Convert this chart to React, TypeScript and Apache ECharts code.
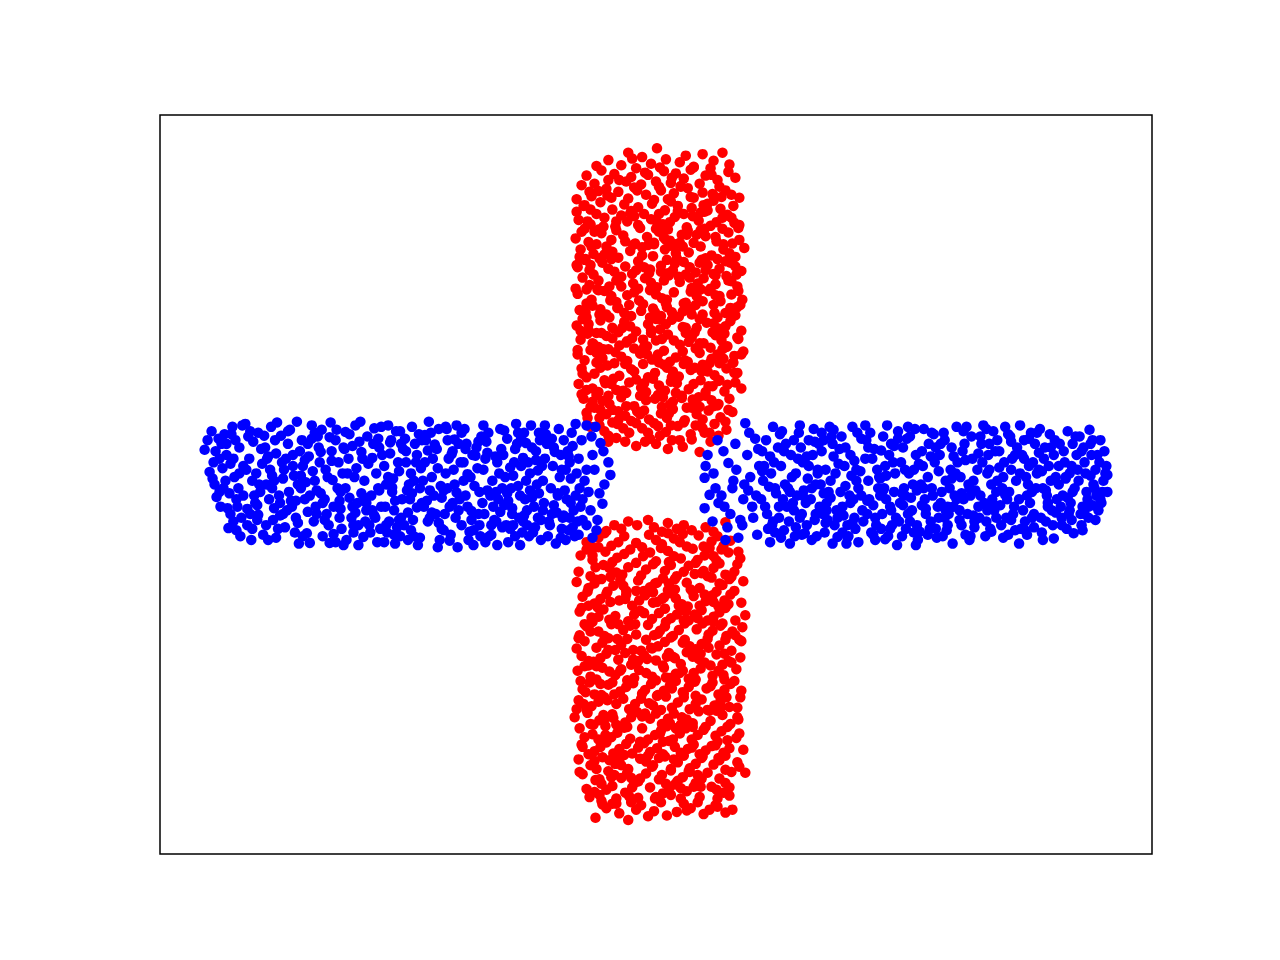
import React, { useEffect, useRef } from 'react';
import * as echarts from 'echarts';

// points are flat x, y pairs in hundredths of an axis unit
const redTop = [
  1,455, -28,449, -14,443, 47,447, 67,449, -48,439, 24,436, 10,440, -35,432, 58,438, 38,430, -5,434, -60,431, 74,433, -20,428, 30,445, 73,423,
  -55,425, -70,418, -42,420, -8,419, 8,424, 20,421, 35,426, 50,418, 62,412, -30,410, 15,408, 28,414, -62,407, 80,415, 0,410, -15,406, 44,407, -48,412, 55,428, -25,416, 4,429,
  -75,405, -50,400, -38,396, -22,402, -10,392, 5,398, 18,394, 32,401, 47,395, 58,391, 70,398, 84,388, -65,390, -28,387, 12,386, 38,388, -80,386, -2,385, -45,388, 25,404, 64,403, -58,397, 76,392,
  -72,378, -56,382, -44,372, -32,379, -18,375, -4,380, 9,371, 22,377, 36,374, 52,380, 65,373, 78,377, -60,366, -12,366, 28,366, 45,368, 72,365, -80,369, -25,370, 3,366, 58,384, -66,372, 15,383,
  -78,358, -66,352, -52,361, -41,349, -29,356, -16,347, -5,359, 7,352, 19,362, 31,348, 43,357, 55,350, 67,361, 79,354, -58,345, -22,363, 12,345, 49,346, 83,347, -35,364, 0,346, 37,363, 61,355, -72,346,
  -81,333, -68,328, -55,340, -45,331, -33,337, -21,326, -9,335, 3,342, 14,330, 26,338, 38,327, 50,336, 61,329, 73,341, 84,331, -60,325, -2,325, 32,344, 68,325, -75,342, -40,344, 20,325, 45,344, 8,334,
  -76,318, -63,312, -50,322, -38,307, -26,316, -14,321, -3,309, 9,318, 21,306, 33,314, 45,322, 56,310, 68,318, 80,308, -71,305, -44,315, 15,323, 62,305, 89,320, -57,306, -8,324, 27,322, 50,306, 74,313,
  -80,297, -67,290, -54,300, -42,288, -31,295, -18,302, -7,286, 5,296, 17,290, 28,301, 40,287, 52,297, 64,292, 75,300, 86,289, -24,285, 11,304, 46,304, -72,304, -48,292, -12,294, 34,294, 58,285, 80,295,
  -67,270, -74,280, -58,276, -47,268, -35,281, -23,272, -11,279, 1,267, 13,283, 24,274, 36,266, 48,279, 60,271, 71,282, 82,268, -5,273, 30,284, -40,276, 55,265, -63,284, -18,265, 8,276, 42,272, 76,275,
  -79,258, -65,250, -52,262, -40,247, -29,256, -17,249, -6,263, 6,252, 18,260, 30,246, 41,255, 53,262, 65,248, 76,257, 87,250, -59,264, 10,245, 45,264, -22,260, -70,245, -45,255, 0,257, 35,261, 60,256,
  -77,236, -64,242, -50,230, -38,239, -25,228, -13,244, -1,233, 11,240, 23,227, 35,237, 47,230, 58,243, 70,232, 82,240, -70,226, -6,226, 28,245, 62,226, -56,237, -32,232, 5,228, 40,243, 78,228, 16,233,
  -80,215, -68,209, -56,222, -44,212, -32,220, -20,207, -8,217, 4,210, 16,223, 27,213, 39,206, 51,219, 63,211, 75,221, 86,208, -60,205, 0,224, 44,224, -26,214, -74,224, -38,206, 10,217, 57,206, 70,214,
  -76,196, -63,190, -50,201, -37,188, -24,198, -12,186, 0,195, 12,203, 24,189, 36,199, 48,191, 60,202, 72,187, 83,197, -69,204, -5,205, 30,205, 55,185, -44,198, -30,192, 18,195, 42,185, 66,195, -58,186,
  -79,176, -66,182, -54,171, -41,179, -29,167, -16,177, -4,169, 8,181, 20,172, 32,166, 44,178, 56,170, 67,183, 79,174, -60,165, 14,166, 40,184, -22,184, 88,180, -72,168, -35,173, 2,176, 27,180, 62,176, -48,183,
  -75,157, -62,150, -49,161, -37,147, -25,156, -13,163, -1,151, 11,158, 23,146, 35,155, 47,162, 59,148, 71,157, 82,151, -70,145, 3,165, 28,163, 64,164, -56,158, -31,163, -8,145, 17,153, 52,153, 77,164,
  -78,136, -64,130, -52,141, -40,128, -27,138, -15,131, -3,143, 9,127, 21,137, 33,129, 45,141, 57,133, 69,126, 80,138, -58,125, -10,125, 16,145, 50,125, 86,130, -70,128, -45,136, -20,142, 3,134, 38,136, 63,140,
  -73,116, -60,121, -47,109, -35,118, -22,106, -10,114, 2,121, 14,108, 26,117, 38,110, 50,120, 62,107, 73,101, 74,116, -66,105, 6,105, 44,105, -30,124, -54,113, -16,120, 20,124, 56,114, 31,104,
  -70,97, -57,90, -44,101, -31,93, -19,99, -7,88, 5,96, 17,102, 29,87, 41,95, 53,100, 65,91, 77,98, -62,104, -25,86, 36,104, 70,85, -64,112, -50,95, -38,87, -12,100, 11,90, 47,88, 58,106,
  -66,78, -52,72, -39,82, -27,70, -14,76, -2,83, 10,71, 22,79, 35,68, 47,76, 59,82, 71,74, -48,66, 4,66, 28,84, 63,66, -69,90, -57,80, -33,76, -8,70, 15,80, 40,80, 54,70, -20,83,
  -48,58, -31,58, -11,58, 12,48, 27,51, 44,44, 49,70, 16,60, -20,52, 36,61, -40,63, 55,58, 0,55, -6,62, 24,60,
  -37,412, 52,371, -71,233, 19,299, 64,141, -9,187, 83,262, -53,349, 7,118, -24,441, 41,212, -66,297, 29,168, -44,84, 77,326, -3,238, 56,419, -79,182, 14,355, -33,127,
  69,204, -58,263, 35,389, -14,310, 86,176, -47,226, 2,79, 60,335, -75,122, 23,281, -19,398, 46,153, -62,342, 11,250, -29,194, 73,276, -51,137, 38,429, -6,291, 80,229,
  -40,356, 17,112, -68,217, 50,290, -22,153, 31,338, -77,308, 6,197, 66,389, -56,101, 27,234, -11,422, 43,118, -35,268, 79,151, -2,327, 58,218, -73,377, 19,144, -45,305,
  3,403, 71,186, -27,243, 49,369, -60,178, 12,286, -16,95, 84,351, -49,391, 36,230, -70,264, 8,162, 63,109, -31,329, 22,370, -55,205, 75,239, -12,137, 44,300, -79,294,
  26,120, -42,164, 67,346, -5,209, 54,164, -65,322, 16,415, -20,290, 82,199, -38,99, 33,193, 60,283, -74,150, 1,355, 47,248, -57,230, 24,327, -9,176, 72,135, -46,249,
  39,158, -26,367, 85,243, -64,191, 13,96, 57,393, -34,212, 20,313, -81,265, 41,338, -15,235, 68,170, -52,311, 5,288, 76,361, -43,143, 30,212, -67,396, 10,331, 53,133,
  -30,106, 64,255, -18,351, 44,191, -76,208, 25,403, -1,116, 81,284, -53,183, 34,280, -13,196, 70,302, -39,239, 15,139, 59,232, -69,356, 4,224, 48,378, -23,324, 78,165,
  -48,120, 37,115,
];

const redBottom = [
  -8,-48, -19,-55, 6,-64, 21,-60, 36,-62, 70,-51, -35,-60, 50,-58, -50,-63, -2,-58, 12,-52, 28,-55, -28,-50, 58,-64, -42,-55,
  -70,-78, -58,-72, -45,-83, -32,-70, -20,-79, -7,-68, 6,-81, 18,-73, 31,-84, 43,-69, 56,-77, 68,-83, -63,-85, 12,-66, 27,-67, 83,-91, -52,-66, -38,-78, -14,-85, 0,-75, 24,-78, 48,-84, 62,-70, 75,-76,
  -58,-85, -76,-96, -64,-102, -51,-91, -39,-99, -26,-88, -13,-97, 0,-104, 12,-90, 25,-100, 37,-87, 49,-96, 61,-103, 73,-92, 85,-100, -44,-105, 5,-86, 54,-86, -70,-88, -32,-94, -6,-92, 18,-97, 42,-102, 66,-88,
  -61,-112, -78,-118, -66,-124, -53,-109, -40,-119, -28,-112, -15,-123, -3,-108, 9,-117, 21,-124, 33,-110, 46,-120, 58,-113, 70,-122, 82,-108, -20,-106, 40,-106, 76,-125, -46,-125, -34,-122, -10,-115, 15,-109, 28,-118, 52,-124, 64,-107,
  -80,-132, -68,-140, -55,-128, -43,-137, -30,-144, -18,-130, -6,-139, 7,-127, 19,-142, 31,-133, 44,-140, 56,-126, 67,-136, 79,-144, 88,-131, -49,-145, 13,-134, 61,-145, -62,-134, -36,-129, -12,-144, 1,-133, 37,-145, 74,-128,
  -74,-152, -62,-161, -50,-148, -37,-157, -24,-164, -11,-150, 1,-159, 14,-147, 26,-162, 38,-151, 50,-158, 63,-165, 75,-149, 86,-160, -68,-164, -3,-146, 32,-165, -56,-155, -30,-149, -17,-157, 8,-153, 20,-154, 44,-164, 57,-150, 69,-157,
  -77,-172, -65,-180, -53,-169, -41,-178, -28,-185, -16,-171, -4,-182, 9,-168, 21,-176, 33,-184, 46,-170, 58,-179, 70,-167, 90,-177, 80,-184, -59,-166, 3,-174, 39,-176, -47,-183, -22,-176, 15,-181, 27,-169, 52,-184, 64,-173,
  -77,-204, -70,-192, -58,-199, -45,-189, -33,-197, -20,-203, -8,-190, 4,-198, 17,-205, 29,-188, 41,-196, 53,-203, 65,-191, 77,-199, 87,-193, -64,-186, 10,-186, 58,-186, -52,-205, -26,-191, -2,-204, 23,-197, 47,-188, 71,-205,
  -72,-212, -60,-221, -48,-208, -35,-217, -23,-224, -10,-210, 2,-219, 15,-207, 27,-214, 40,-223, 52,-209, 64,-218, 76,-225, 84,-210, -80,-222, -15,-225, 33,-225, -54,-214, -41,-224, -29,-209, -4,-222, 9,-213, 46,-216, 70,-210,
  -75,-232, -63,-240, -50,-229, -38,-237, -25,-244, -12,-231, 0,-238, 13,-228, 25,-243, 37,-233, 49,-241, 61,-230, 73,-239, 85,-234, -68,-245, 7,-245, 55,-245, -56,-235, -31,-228, -18,-239, 19,-235, 31,-227, 43,-236, 67,-244,
  -79,-252, -66,-260, -54,-248, -41,-258, -29,-265, -17,-251, -4,-260, 8,-248, 20,-256, 33,-263, 45,-249, 57,-259, 69,-264, 81,-250, -60,-264, 0,-265, 40,-264, -72,-246, -47,-253, -35,-250, -10,-255, 14,-262, 27,-252, 63,-252,
  -67,-268, -74,-277, -62,-284, -48,-271, -36,-280, -23,-269, -11,-278, 2,-285, 14,-272, 27,-281, 39,-267, 51,-276, 63,-284, 75,-270, 86,-279, -55,-285, 20,-266, -42,-284, -30,-274, -5,-270, 8,-279, 33,-274, 57,-268, 69,-278,
  -78,-292, -65,-300, -52,-288, -40,-297, -27,-304, -15,-290, -3,-299, 10,-287, 22,-295, 34,-304, 46,-291, 59,-299, 71,-288, 82,-302, -70,-305, 5,-305, 52,-305, -58,-294, -33,-290, -21,-297, 16,-302, 28,-288, 40,-297, 65,-293,
  -82,-315, -69,-309, -57,-319, -44,-311, -31,-322, -19,-308, -6,-317, 6,-324, 18,-310, 31,-318, 43,-307, 55,-320, 67,-312, 82,-315, 75,-324, -40,-325, 25,-325, -63,-325, -50,-315, -25,-315, 0,-310, 12,-317, 37,-323, 61,-306,
  -72,-342, -77,-330, -64,-338, -51,-327, -39,-336, -26,-344, -14,-330, -1,-339, 11,-327, 24,-337, 36,-345, 48,-332, 60,-340, 72,-328, 84,-337, -58,-345, 17,-345, -45,-342, -32,-329, -8,-345, 5,-333, 30,-330, 42,-339, 66,-334,
  -75,-352, -62,-361, -50,-349, -37,-358, -24,-364, -12,-350, 1,-357, 13,-347, 25,-363, 38,-352, 50,-360, 62,-348, 74,-357, 88,-359, -68,-365, 7,-365, 44,-365, -56,-355, -43,-364, -30,-351, -6,-362, 19,-355, 32,-358, 56,-354, 68,-363,
  -78,-372, -66,-380, -54,-369, -41,-378, -28,-385, -16,-371, -3,-380, 9,-368, 22,-376, 34,-384, 46,-370, 58,-379, 70,-367, 82,-376, -60,-385, 15,-385, 90,-390, -47,-373, -35,-368, -10,-375, 3,-370, 28,-367, 40,-378, 64,-373,
  -74,-392, -61,-400, -48,-388, -35,-397, -22,-404, -10,-391, 3,-399, 15,-387, 27,-396, 40,-404, 52,-390, 64,-398, 76,-389, -55,-405, 10,-405, -42,-393, -29,-390, -16,-398, 21,-403, 34,-389, 46,-398, 70,-404,
  -67,-423, -70,-412, -57,-420, -44,-408, -31,-417, -18,-424, -6,-410, 7,-418, 19,-406, 31,-415, 44,-423, 56,-409, 68,-417, 25,-425, -40,-425, -50,-413, -24,-410, 0,-423, 13,-412, 38,-409, 62,-425, 74,-410,
  -61,-451, -50,-438, -37,-445, -28,-454, -15,-434, -2,-442, 11,-448, 21,-443, 35,-438, 48,-446, 60,-434, 70,-444, 77,-440, 5,-430, -25,-430, -55,-428, -44,-432, -20,-440, 28,-432, 42,-430, 54,-440, -8,-449,
  58,-97, -43,-316, 12,-143, -76,-266, 33,-388, -5,-221, 81,-343, -60,-129, 24,-255, -18,-402, 67,-188, -49,-292, 4,-337, 45,-229, -72,-189, 15,-420, -31,-155, 74,-301, -8,-367, 39,-121,
  -62,-374, 28,-283, -23,-237, 86,-212, -54,-433, 9,-192, 61,-413, -39,-209, 20,-330, -80,-304, 49,-149, -14,-283, 70,-386, -47,-113, 36,-356, -3,-160, 79,-266, -66,-324, 17,-233, -27,-422,
  55,-273, -58,-179, 6,-393, 42,-181, -74,-355, 31,-441, -11,-310, 64,-134, -35,-380, 23,-164, -69,-145, 50,-328, -1,-425, 76,-241, -44,-268, 13,-105, 60,-353, -21,-189, 85,-288, -57,-399,
  29,-210, -7,-296, 45,-409, -78,-208, 18,-372, -33,-137, 69,-229, -51,-339, 2,-202, 40,-286, -64,-96, 26,-315, -16,-348, 73,-162, -40,-432, 10,-261, 57,-198, -71,-281, 35,-142, -25,-397,
  83,-318, -46,-159, 7,-348, 48,-117, -60,-246, 22,-401, -12,-174, 66,-301, -36,-252, 14,-323, -77,-389, 53,-221, -4,-382, 38,-255, -53,-312, 79,-118, -20,-144, 62,-436, -66,-199, 30,-172,
  -9,-236, 72,-346, -42,-374, 1,-286, 47,-368, -73,-297, 19,-128, -29,-328, 58,-159, -56,-270, 11,-233, 84,-382, -38,-189, 25,-411, -14,-314, 68,-258, -48,-224, 37,-328, -1,-134, 80,-204,
  -62,-416, 16,-276, -32,-366, 54,-306, -75,-167, 42,-393, -22,-262, 6,-155, 63,-370, -45,-396, 28,-184, -68,-239, 74,-421, -18,-356, 34,-219,
];

const blueLeft = [
  -455,47, -450,17, -448,72, -443,-17, -440,35, -438,55, -436,-5, -445,0, -441,62, -437,22, -446,30, -439,-30, -452,60,
  -431,-59, -433,40, -428,68, -425,10, -422,-30, -420,50, -418,-45, -430,-12, -416,25, -427,78, -419,-70, -424,60, -434,5, -429,-40, -421,-5, -417,80, -426,35, -433,55, -423,-20,
  -412,-55, -410,35, -407,5, -404,-25, -401,70, -398,48, -396,-68, -409,-40, -403,15, -399,-10, -414,82, -406,58, -413,20, -408,-75, -402,-48, -397,28, -405,-15, -411,65, -400,0,
  -391,-75, -389,20, -386,-48, -383,42, -380,-15, -378,66, -393,0, -385,-32, -377,30, -388,78, -381,-60, -376,8, -394,50, -390,-20, -384,60, -379,-42, -387,-5, -382,84, -392,35,
  -374,-58, -371,55, -368,-22, -365,12, -362,85, -360,-80, -372,-35, -366,40, -358,-5, -363,-45, -356,25, -369,74, -357,60, -375,20, -370,-10, -364,-65, -359,45, -367,-30, -361,0,
  -352,-66, -349,-79, -346,18, -343,-30, -340,50, -337,74, -353,3, -345,-50, -338,-12, -350,38, -336,-70, -341,65, -347,80, -354,-20, -344,5, -339,30, -351,55, -342,-40,
  -332,-40, -329,-79, -326,6, -323,60, -320,30, -317,-60, -334,-20, -327,45, -318,-10, -322,74, -330,-55, -316,15, -333,20, -325,-30, -319,-45, -328,84, -321,-5, -315,50,
  -312,-75, -310,35, -307,-45, -304,10, -301,-25, -298,85, -299,58, -313,-5, -305,-65, -297,-12, -309,68, -302,22, -314,48, -306,-30, -300,-55, -311,15, -303,80, -296,35,
  -293,-50, -290,28, -287,-15, -284,76, -281,-78, -279,50, -294,5, -286,-35, -278,-60, -291,65, -282,15, -276,40, -292,-25, -285,55, -280,-5, -288,-65, -277,-30, -283,-45,
  -273,-30, -271,-65, -268,42, -265,8, -262,72, -259,-48, -274,25, -266,-10, -257,55, -263,-80, -270,80, -256,-20, -272,0, -264,-35, -260,30, -267,60, -258,-70, -269,-50,
  -253,62, -250,-38, -247,15, -244,-70, -241,40, -238,-5, -254,-55, -246,78, -236,-25, -249,0, -240,-82, -243,55, -252,30, -248,-20, -237,22, -245,-48, -239,68, -251,-8,
  -233,30, -230,-50, -227,70, -224,-15, -221,48, -218,-75, -234,-30, -226,10, -216,-60, -229,85, -220,22, -217,-2, -232,60, -228,-8, -222,-40, -235,5, -219,75, -225,35,
  -213,-40, -210,60, -207,-68, -204,20, -201,80, -198,-20, -214,-8, -205,45, -196,-55, -209,35, -200,-85, -203,0, -212,15, -208,-30, -197,30, -202,-45, -211,75, -199,55,
  -193,75, -190,-30, -187,10, -184,-62, -181,50, -178,-10, -194,30, -186,-48, -176,65, -189,-75, -180,22, -174,80, -192,-15, -185,40, -179,-40, -191,55, -183,-2, -177,-70,
  -173,-40, -171,58, -168,-70, -165,5, -162,38, -159,-20, -174,20, -166,-55, -157,75, -170,-8, -160,-82, -156,48, -172,35, -164,-30, -158,15, -169,70, -161,-50, -155,-5,
  -153,-28, -150,62, -147,-60, -144,12, -141,82, -138,-45, -154,40, -146,-5, -136,25, -149,-78, -140,55, -137,-15, -152,10, -145,-40, -139,70, -151,-55, -143,30, -135,-65,
  -133,70, -130,-35, -127,15, -124,-65, -121,45, -118,-12, -134,-50, -126,80, -116,-75, -129,30, -120,0, -117,60, -132,-20, -125,50, -119,-45, -131,5, -123,-30, -115,25,
  -113,-25, -110,55, -107,-55, -104,25, -101,-80, -98,75, -114,5, -106,-5, -96,40, -109,-70, -100,-38, -97,10, -112,35, -105,-40, -99,-15, -111,68, -103,50, -95,-60,
  -93,60, -90,-20, -87,30, -84,-58, -81,82, -78,-68, -94,-45, -86,8, -76,-30, -89,45, -80,15, -77,-5, -92,-8, -85,70, -79,-50, -91,20, -83,-35, -88,-62,
  -70,80, -61,78, -56,56, -48,30, -46,13, -54,-26, -59,-48, -66,-35, -72,5, -64,40, -68,-10, -52,0, -75,60, -62,20, -57,-12, -70,-55, -65,65, -74,-20, -60,-62, -53,45,
  -412,-33, -268,57, -157,-37, -338,44, -201,-11, -96,-72, -361,-52, -233,67, -119,19, -426,-50, -295,-71, -182,39, -74,-48, -387,12, -247,-62, -142,48, -318,-33, -212,78, -103,-28, -444,45,
  -279,-8, -166,-68, -347,62, -226,-38, -131,56, -64,-72, -401,-41, -259,18, -149,-22, -325,-67, -194,5, -88,38, -373,35, -241,-31, -122,-58, -306,52, -219,-52, -112,80, -432,-32, -286,36,
  -175,-25, -356,-70, -206,41, -81,-15, -395,66, -263,-22, -137,-82, -331,10, -188,-64, -93,-42, -420,15, -274,-78, -160,30, -342,-8, -230,46, -127,-8, -303,-38, -196,70, -70,20, -379,-25,
  -255,48, -145,-32, -313,71, -216,-18, -105,62, -447,8, -289,-55, -170,43, -351,-37, -238,-72, -134,36, -407,-60, -266,-4, -153,73, -323,-78, -186,-36, -86,-25, -366,25, -246,-12, -116,-48,
  -297,44, -208,-76, -99,-12, -435,68, -280,62, -163,-48, -334,-48, -223,54, -128,-70, -393,-55, -252,45, -139,-2, -309,-18, -178,-55, -383,-72, -261,-58, -147,23, -327,32, -203,61, -91,-75,
  -416,-15, -284,-42, -167,-15, -344,70, -231,-22, -121,33, -371,72, -244,5, -133,-42, -300,-82, -192,48, -84,52, -402,-28, -270,10, -155,-58, -336,-25, -214,-62, -108,-50, -429,28, -292,-35,
  -179,58, -358,12, -236,60, -125,-18, -391,38, -257,-45, -142,-70, -319,-22, -199,-35, -78,35, -376,-40, -250,-75, -118,70, -305,-55, -210,-5, -95,20, -440,-10, -277,78, -161,-10, -349,-15,
  -228,-45, -136,62, -409,72, -264,-68, -150,-12, -329,64, -184,-82, -82,-70, -363,-22, -242,30, -114,-35, -294,-18, -205,-25, -102,44, -423,-62, -272,-55, -172,-78, -354,33, -220,-85, -130,-55,
  -385,5, -258,72, -144,-55, -315,-82, -190,14, -87,-45,
];

const blueRight = [
  49,9, 49,-32, 54,-14, 62,60, 50,25, 57,-50, 60,-5, 52,40, 63,-25, 58,15,
  70,-75, 73,29, 83,-72, 68,45, 75,-40, 80,55, 66,-15, 78,5, 72,-58, 81,20, 69,-30, 77,-5, 85,-48,
  90,83, 102,-68, 88,-20, 92,40, 95,10, 98,-45, 100,62, 87,-55, 104,25, 93,-8, 97,-30, 103,48, 89,0, 101,-15, 94,70,
  118,78, 110,-30, 107,45, 113,-60, 116,15, 121,-12, 108,5, 124,-45, 111,60, 119,30, 115,-78, 106,-20, 123,50, 112,-40, 120,-5, 109,25, 117,-55, 125,68, 114,-3,
  128,-20, 131,55, 134,-50, 137,10, 140,-70, 143,35, 126,25, 133,-5, 139,-35, 144,70, 129,-62, 136,40, 142,-15, 127,72, 135,-80, 130,0, 141,15, 145,-45, 132,-30,
  150,-66, 148,30, 151,-25, 154,60, 157,-5, 160,-48, 163,20, 147,-40, 153,8, 159,75, 162,-70, 146,50, 156,-20, 165,-30, 149,-8, 158,40, 161,0, 152,-55, 164,55,
  183,-71, 168,-40, 171,20, 174,-10, 177,65, 180,-55, 167,45, 172,-25, 176,5, 179,38, 182,-35, 170,-65, 175,78, 166,0, 178,-80, 181,15, 169,60, 173,-48, 184,28,
  188,-30, 191,50, 194,-70, 197,12, 200,-45, 203,70, 186,-10, 190,25, 193,-55, 196,40, 199,-20, 202,5, 187,65, 192,-80, 198,78, 201,-60, 204,-5, 189,-42, 195,-15,
  206,18, 209,-50, 212,60, 215,-20, 218,35, 221,-75, 224,-5, 208,-35, 211,80, 214,5, 217,-65, 220,48, 223,20, 207,-15, 213,-40, 216,70, 219,-28, 222,-55, 225,10,
  228,-40, 231,25, 234,-70, 237,55, 240,-10, 243,-82, 226,8, 229,65, 232,-20, 235,40, 238,-55, 241,15, 244,72, 227,-60, 230,-5, 236,-30, 239,30, 242,-45, 233,80,
  246,-25, 249,50, 252,-60, 255,15, 258,-35, 261,75, 264,-75, 247,30, 250,-5, 253,62, 256,-50, 259,0, 262,40, 248,-70, 251,20, 257,-18, 260,-65, 263,-8, 254,78,
  266,-64, 268,45, 271,-20, 274,10, 277,-50, 280,68, 283,-72, 269,25, 272,-40, 275,55, 278,-5, 281,30, 284,-30, 267,0, 270,75, 276,-60, 279,-15, 282,50, 285,-45,
  288,-10, 291,60, 294,-55, 297,20, 300,-30, 303,78, 286,40, 289,-70, 292,5, 295,-40, 298,50, 301,-15, 304,30, 287,-25, 290,70, 293,-62, 296,-5, 299,-80, 302,15,
  306,-35, 309,45, 312,-68, 315,0, 318,65, 321,-50, 324,20, 307,10, 310,-20, 313,78, 316,-75, 319,35, 322,-8, 308,-55, 311,55, 314,-40, 317,-15, 320,5, 325,-30,
  328,55, 331,-25, 334,15, 337,-60, 340,72, 343,-10, 326,-45, 329,30, 332,-70, 335,40, 338,0, 341,-35, 344,60, 327,-15, 330,80, 333,-50, 336,20, 339,-20, 342,45,
  348,-55, 351,30, 354,-20, 357,65, 360,-40, 363,5, 346,45, 349,-5, 352,78, 355,-68, 358,20, 361,-30, 364,50, 347,-28, 350,10, 353,-45, 356,-10, 359,35, 362,-62,
  367,80, 370,-35, 374,-68, 376,25, 379,-10, 382,55, 366,-20, 369,40, 372,-50, 375,0, 378,70, 381,-40, 384,15, 368,-60, 371,60, 373,10, 377,-25, 380,30, 383,-5,
  388,-45, 391,35, 394,-15, 397,68, 400,-55, 403,10, 386,20, 389,-65, 392,50, 395,-30, 398,5, 401,40, 404,-20, 387,75, 390,-5, 393,-50, 396,25, 399,-35, 402,60,
  408,-30, 411,45, 414,-60, 417,15, 420,-10, 423,65, 406,0, 409,-45, 412,30, 415,72, 418,-25, 421,-66, 424,40, 407,55, 410,-15, 413,10, 416,-40, 419,25, 422,-5,
  428,-40, 431,50, 434,-10, 437,74, 440,-28, 443,20, 426,5, 429,-55, 432,30, 435,-20, 438,55, 441,0, 444,-15, 427,65, 430,-30, 433,15, 436,-45, 439,40, 442,-5,
  447,30, 450,-10, 453,15, 455,13, 455,-10, 449,-25, 452,45, 446,-35, 451,5, 454,25, 448,60,
  312,33, 169,-12, 401,-73, 227,46, 358,-48, 141,-58, 265,28, 420,55, 188,-65, 334,-35, 107,18, 291,-45, 376,62, 213,-22, 152,38, 443,-48, 248,-12, 317,-70, 179,74, 393,-8,
  231,-74, 124,-30, 346,23, 272,-33, 409,-55, 160,58, 298,8, 366,-80, 200,32, 438,12, 254,-40, 135,-10, 327,65, 221,-45, 386,43, 171,-52, 303,-20, 430,-62, 240,52, 115,38,
  352,-14, 278,70, 196,-25, 417,-35, 145,80, 320,-42, 263,-55, 374,-15, 207,62, 448,-20, 285,18, 157,-75, 338,-64, 232,12, 398,50, 176,-18, 310,72, 126,-72, 362,40, 249,-28,
  425,20, 185,48, 292,-35, 344,5, 219,-68, 403,-38, 139,60, 270,-5, 381,-58, 163,15, 325,42, 244,62, 436,-30, 198,-52, 355,68, 118,-50, 282,-60, 413,8, 211,35, 340,-28,
  172,-35, 300,38, 390,-75, 236,-60, 148,-15, 367,15, 256,65, 429,45, 191,-2, 316,-5, 129,45, 274,-68, 406,25, 226,-15, 350,-72, 161,-40, 287,55, 379,-45, 204,-78, 445,40,
  260,20, 333,75, 183,-45, 395,-25, 120,-65, 306,-48, 245,-50, 371,35, 214,50, 432,-40, 154,25, 294,-30, 358,58, 237,-35, 415,-18, 178,55, 321,-58, 268,-28, 384,70, 138,-25,
  343,-45, 202,20, 251,-15, 440,60, 167,70, 308,-12, 372,-62, 229,-8, 419,-48, 193,-72, 277,38, 336,55, 147,-68, 389,18, 262,-82,
];

const axisMin = -5;
const axisMax = 5;

const toPoints = (flat: number[]) => {
  const pts: number[][] = [];
  for (let i = 0; i < flat.length; i += 2) pts.push([flat[i] / 100, flat[i + 1] / 100]);
  return pts;
};

export default function App() {
  const chartRef = useRef<HTMLDivElement>(null);

  useEffect(() => {
    if (!chartRef.current) return;
    const chart = echarts.init(chartRef.current, null, { renderer: 'svg' });

    const hiddenAxis = {
      type: 'value' as const,
      min: axisMin,
      max: axisMax,
      show: false,
      splitLine: { show: false },
    };

    chart.setOption({
      animation: false,
      backgroundColor: '#fff',
      grid: {
        left: 160,
        top: 115,
        width: 992,
        height: 739,
        show: true,
        borderColor: '#000',
        borderWidth: 1.5,
        backgroundColor: 'transparent',
      },
      xAxis: hiddenAxis,
      yAxis: hiddenAxis,
      series: [
        {
          name: 'red',
          type: 'scatter',
          symbolSize: 10.5,
          progressive: 0,
          itemStyle: { color: '#ff0000', opacity: 1 },
          data: [...toPoints(redTop), ...toPoints(redBottom)],
        },
        {
          name: 'blue',
          type: 'scatter',
          symbolSize: 10.5,
          progressive: 0,
          itemStyle: { color: '#0000ff', opacity: 1 },
          data: [...toPoints(blueLeft), ...toPoints(blueRight)],
        },
      ],
    });

    return () => chart.dispose();
  }, []);

  return (
    <div style={{ position: 'fixed', left: 0, top: 0, width: 1280, height: 960, background: '#fff' }}>
      <div ref={chartRef} style={{ width: '100%', height: '100%' }} />
    </div>
  );
}
